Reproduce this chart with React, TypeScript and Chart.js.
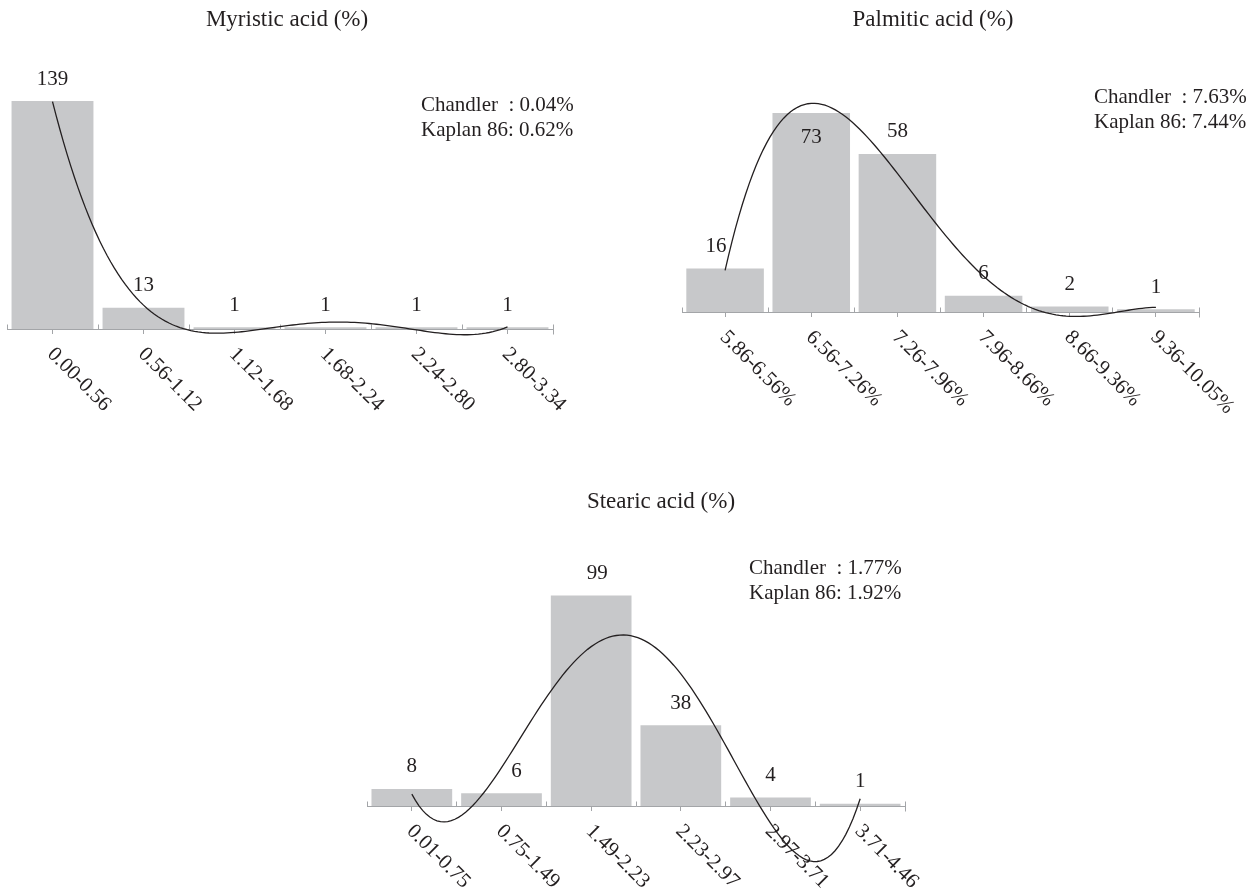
import React, { useEffect, useRef } from "react";
import { Chart, registerables } from "chart.js";

Chart.register(...registerables);

// ---- data ----
const myristicBins = ["0.00-0.56", "0.56-1.12", "1.12-1.68", "1.68-2.24", "2.24-2.80", "2.80-3.34"];
const myristicCounts = [139, 13, 1, 1, 1, 1];
const myristicRefs = ["Chandler  : 0.04%", "Kaplan 86: 0.62%"];

const palmiticBins = ["5.86-6.56%", "6.56-7.26%", "7.26-7.96%", "7.96-8.66%", "8.66-9.36%", "9.36-10.05%"];
const palmiticCounts = [16, 73, 58, 6, 2, 1];
const palmiticRefs = ["Chandler  : 7.63%", "Kaplan 86: 7.44%"];

const stearicBins = ["0.01-0.75", "0.75-1.49", "1.49-2.23", "2.23-2.97", "2.97-3.71", "3.71-4.46"];
const stearicCounts = [8, 6, 99, 38, 4, 1];
const stearicRefs = ["Chandler  : 1.77%", "Kaplan 86: 1.92%"];

// ---- look ----
const W = 1247;
const H = 889;
const BAR_GRAY = "#c7c8ca";
const AXIS_GRAY = "#a3a5a8";
const INK = "#231f20";
const SERIF = '"Liberation Serif", "Times New Roman", serif';
const TREND_DEGREE = 4;

type Panel = {
  title: string;
  bins: string[];
  counts: number[];
  refs: string[];
  area: { left: number; right: number; top: number; bottom: number };
  yMax: number;
  titleAt: [number, number];
  refsAt: [number, number];
  labelShift: number[];
  inside: number[];
};

const panels: Panel[] = [
  {
    title: "Myristic acid (%)",
    bins: myristicBins,
    counts: myristicCounts,
    refs: myristicRefs,
    area: { left: 7, right: 553, top: 83, bottom: 329 },
    yMax: 150,
    titleAt: [287, 20],
    refsAt: [421, 105],
    labelShift: [0, 0, 0, 0, 0, 0],
    inside: [],
  },
  {
    title: "Palmitic acid (%)",
    bins: palmiticBins,
    counts: palmiticCounts,
    refs: palmiticRefs,
    area: { left: 682, right: 1199, top: 94, bottom: 312 },
    yMax: 80,
    titleAt: [933, 20],
    refsAt: [1094, 97],
    labelShift: [-9, 0, 0, 0, 0, 0],
    inside: [1],
  },
  {
    title: "Stearic acid (%)",
    bins: stearicBins,
    counts: stearicCounts,
    refs: stearicRefs,
    area: { left: 367, right: 905, top: 572, bottom: 806 },
    yMax: 110,
    titleAt: [661, 502],
    refsAt: [749, 568],
    labelShift: [0, 15, 6, 0, 0, 0],
    inside: [],
  },
];

// Least-squares polynomial trendline over the bin index.
function polyFit(ys: number[], degree: number) {
  const n = ys.length;
  const c = (n - 1) / 2;
  const m = degree + 1;
  const A: number[][] = Array.from({ length: m }, () => new Array(m + 1).fill(0));
  for (let i = 0; i < n; i++) {
    const t = i - c;
    for (let r = 0; r < m; r++) {
      for (let k = 0; k < m; k++) A[r][k] += Math.pow(t, r + k);
      A[r][m] += Math.pow(t, r) * ys[i];
    }
  }
  for (let col = 0; col < m; col++) {
    let piv = col;
    for (let r = col + 1; r < m; r++) if (Math.abs(A[r][col]) > Math.abs(A[piv][col])) piv = r;
    const tmp = A[col];
    A[col] = A[piv];
    A[piv] = tmp;
    for (let r = 0; r < m; r++) {
      if (r === col) continue;
      const f = A[r][col] / A[col][col];
      for (let k = col; k <= m; k++) A[r][k] -= f * A[col][k];
    }
  }
  const coef = A.map((row, r) => row[m] / row[r]);
  return (x: number) => coef.reduce((s, a, k) => s + a * Math.pow(x - c, k), 0);
}

function makeDecor(panel: Panel) {
  return {
    id: "histogramDecor",
    beforeDatasetsDraw(chart: any) {
      const { ctx, chartArea } = chart;
      const xs = chart.scales.x;
      const n = panel.bins.length;
      const yAxis = Math.floor(chartArea.bottom) + 0.5;
      ctx.save();
      ctx.strokeStyle = AXIS_GRAY;
      ctx.lineWidth = 1;
      ctx.beginPath();
      // bin boundary marks above the axis
      for (let i = 0; i <= n; i++) {
        const px = Math.floor(xs.getPixelForValue(i - 0.5)) + 0.5;
        ctx.moveTo(px, yAxis - 5);
        ctx.lineTo(px, i === n ? yAxis + 5 : yAxis);
      }
      ctx.stroke();

      // bin labels, slanted down to the right
      ctx.fillStyle = INK;
      ctx.font = `21px ${SERIF}`;
      ctx.textAlign = "left";
      ctx.textBaseline = "middle";
      panel.bins.forEach((label, i) => {
        ctx.save();
        ctx.translate(xs.getPixelForValue(i) - 2, chartArea.bottom + 22);
        ctx.rotate(Math.PI / 4);
        ctx.fillText(label, 0, 0);
        ctx.restore();
      });
      ctx.restore();
    },
    afterDatasetsDraw(chart: any) {
      const { ctx } = chart;
      const xs = chart.scales.x;
      const ys = chart.scales.y;
      ctx.save();
      ctx.fillStyle = INK;
      ctx.textBaseline = "middle";

      // counts over the bars
      ctx.font = `21px ${SERIF}`;
      ctx.textAlign = "center";
      panel.counts.forEach((v, i) => {
        const top = ys.getPixelForValue(v);
        const y = panel.inside.includes(i) ? top + 24 : top - 22;
        ctx.fillText(String(v), xs.getPixelForValue(i) + panel.labelShift[i], y);
      });

      // title
      ctx.font = `23px ${SERIF}`;
      ctx.fillText(panel.title, panel.titleAt[0], panel.titleAt[1]);

      // reference values
      ctx.font = `21px ${SERIF}`;
      ctx.textAlign = "left";
      panel.refs.forEach((t, k) => {
        ctx.fillText(t, panel.refsAt[0], panel.refsAt[1] + k * 25.5);
      });
      ctx.restore();
    },
  };
}

function HistogramPanel({ panel }: { panel: Panel }) {
  const ref = useRef<HTMLCanvasElement>(null);

  useEffect(() => {
    const canvas = ref.current;
    if (!canvas) return;
    const n = panel.counts.length;
    const fit = polyFit(panel.counts, TREND_DEGREE);
    const trend: { x: number; y: number }[] = [];
    for (let k = 0; k <= (n - 1) * 25; k++) {
      const xv = k / 25;
      trend.push({ x: xv, y: fit(xv) });
    }
    const a = panel.area;
    const chart = new Chart(canvas, {
      type: "bar",
      data: {
        labels: panel.bins,
        datasets: [
          {
            type: "line",
            data: trend as any,
            xAxisID: "xFit",
            borderColor: INK,
            borderWidth: 1.3,
            pointRadius: 0,
            tension: 0,
            clip: false as any,
            order: 0,
          } as any,
          {
            type: "bar",
            data: panel.counts,
            backgroundColor: BAR_GRAY,
            borderWidth: 0,
            grouped: false,
            barPercentage: 0.9,
            categoryPercentage: 1,
            order: 1,
          },
        ],
      },
      options: {
        responsive: false,
        animation: false,
        devicePixelRatio: 1,
        events: [],
        layout: {
          padding: { left: a.left, right: W - a.right, top: a.top, bottom: H - a.bottom - 5 },
        },
        plugins: {
          legend: { display: false },
          tooltip: { enabled: false },
          title: { display: false },
        },
        scales: {
          x: {
            type: "category",
            offset: true,
            border: { display: true, color: AXIS_GRAY, width: 1 },
            grid: {
              display: true,
              drawOnChartArea: false,
              drawTicks: true,
              tickLength: 5,
              offset: false,
              color: AXIS_GRAY,
              lineWidth: 1,
            },
            ticks: { display: false },
          },
          xFit: {
            type: "linear",
            display: false,
            offset: false,
            bounds: "data",
            min: -0.5,
            max: n - 0.5,
            grid: { offset: false },
          },
          y: { display: false, min: 0, max: panel.yMax },
        },
      },
      plugins: [makeDecor(panel)],
    });
    return () => chart.destroy();
  }, [panel]);

  return (
    <canvas
      ref={ref}
      width={W}
      height={H}
      style={{ position: "absolute", left: 0, top: 0, width: W, height: H }}
    />
  );
}

export default function App() {
  return (
    <div
      style={{
        position: "fixed",
        left: 0,
        top: 0,
        width: W,
        height: H,
        overflow: "hidden",
        background: "#ffffff",
      }}
    >
      {panels.map((p) => (
        <HistogramPanel key={p.title} panel={p} />
      ))}
    </div>
  );
}
